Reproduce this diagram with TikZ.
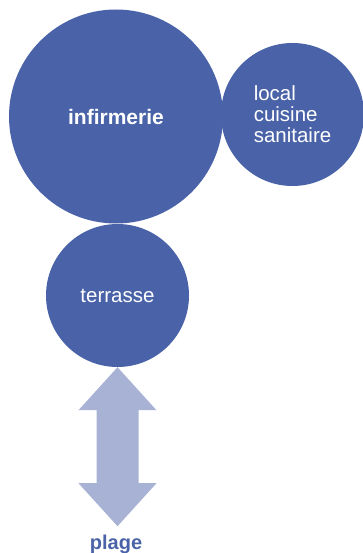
\documentclass[tikz,border=0pt]{standalone}
\usepackage{fontspec}
\setmainfont{Liberation Sans}
\definecolor{bulle}{HTML}{4A63A8}
\definecolor{fleche}{HTML}{A8B2D5}
\tikzset{
  bulle/.style={circle,fill=bulle,text=white,inner sep=0pt,font=\fontsize{20.5}{21}\selectfont},
}
\begin{document}
\begin{tikzpicture}[x=1pt,y=-1pt]
\useasboundingbox (0,0) rectangle (362,553);

%the three rooms
\node[bulle,minimum size=214pt,font=\fontsize{21}{21}\selectfont\bfseries] (infirmerie) at (116,116.5) {infirmerie};
\node[bulle,minimum size=143pt,align=left] (local) at (292.5,114.5) {local\\cuisine\\sanitaire};
\node[bulle,minimum size=143pt] (terrasse) at (117.5,295.5) {terrasse};

%double arrow down to the beach
\coordinate (haut) at (terrasse.south);
\fill[fleche] (haut) -- ++(39,43) -- ++(-18,0) -- ++(0,73) -- ++(18,0) -- ++(-39,43)
  -- ++(-39,-43) -- ++(18,0) -- ++(0,-73) -- ++(-18,0) -- cycle;
\node[text=bulle,font=\fontsize{20}{20}\selectfont\bfseries] (plage) at (116,544) {plage};
\end{tikzpicture}
\end{document}
